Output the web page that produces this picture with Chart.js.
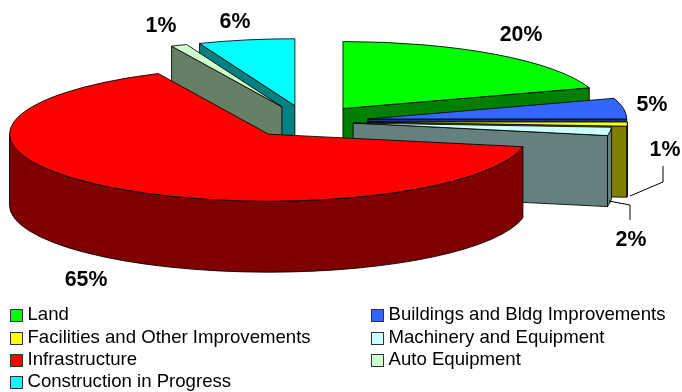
<!DOCTYPE html>
<html>
<head>
<meta charset="utf-8">
<style>html,body{margin:0;padding:0;background:#fff}canvas{display:block}</style>
<script src="https://cdn.jsdelivr.net/npm/chart.js@4/dist/chart.umd.min.js"></script>
</head>
<body>
<canvas id="c" width="682" height="392"></canvas>
<script>
const categories = ['Land','Buildings and Bldg Improvements','Facilities and Other Improvements','Machinery and Equipment','Infrastructure','Auto Equipment','Construction in Progress'];
const values = [20,5,1,2,65,1,6];
const colors = ['#00FF00','#3366FF','#FFFF00','#CCFFFF','#FF0000','#CCFFCC','#00FFFF'];
const wallColors = ['#008000','#1A3380','#808000','#668080','#800000','#668066','#008080'];
const explode = [62,62,62,47,62,62,62];
const paintOrder = [0,6,5,1,2,3,4];
const labelPos = [[521,35],[652,105],[665,150],[631,240],[86,280],[161,26],[235,22]];
const leaders = [[[630,196],[663,182],[663,166]],[[609,201],[630,205],[630,220]]];
const legendCols = [10,371], legendRows = [315,338,360,382];

const SQUASH = 67/259, DEPTH = 71, RADIUS = 259;
const LINE = 'rgba(0,0,0,0.85)';

const pie3d = {
  id:'pie3d',
  beforeDatasetsDraw(chart){
    const ctx = chart.ctx, arcs = chart.getDatasetMeta(0).data;
    paintOrder.forEach(i=>{
      const a = arcs[i], s = a.startAngle, e = a.endAngle, r = a.outerRadius, mid=(s+e)/2;
      const ax = a.x + explode[i]*Math.cos(mid), ay = a.y + explode[i]*Math.sin(mid)*SQUASH;
      const px = t=>ax+r*Math.cos(t), py = t=>ay+r*Math.sin(t)*SQUASH;
      ctx.save();
      ctx.lineWidth = 1; ctx.strokeStyle = LINE; ctx.lineJoin='round';
      ctx.fillStyle = wallColors[i];
      const radial = t=>{
        ctx.beginPath();ctx.moveTo(ax,ay);ctx.lineTo(px(t),py(t));
        ctx.lineTo(px(t),py(t)+DEPTH);ctx.lineTo(ax,ay+DEPTH);ctx.closePath();
        ctx.fill();ctx.stroke();
      };
      if(Math.cos(s)<-1e-6) radial(s);
      if(Math.cos(e)>1e-6) radial(e);
      const f0 = Math.max(s,0), f1 = Math.min(e,Math.PI);
      if(f1>f0){
        ctx.beginPath();
        ctx.ellipse(ax,ay,r,r*SQUASH,0,f0,f1);
        ctx.lineTo(px(f1),py(f1)+DEPTH);
        ctx.ellipse(ax,ay+DEPTH,r,r*SQUASH,0,f1,f0,true);
        ctx.closePath();ctx.fill();ctx.stroke();
      }
      // top surface through the library's arc element
      ctx.save();
      ctx.translate(ax,ay);ctx.scale(1,SQUASH);ctx.translate(-a.x,-a.y);
      a.draw(ctx);
      ctx.restore();
      ctx.beginPath();ctx.moveTo(ax,ay);
      ctx.ellipse(ax,ay,r,r*SQUASH,0,s,e);
      ctx.closePath();ctx.stroke();
      ctx.restore();
    });
    return false;
  },
  afterDraw(chart){
    const ctx = chart.ctx;
    ctx.save();
    ctx.strokeStyle='#000';ctx.lineWidth=1;
    leaders.forEach(l=>{ctx.beginPath();l.forEach((p,j)=>j?ctx.lineTo(p[0],p[1]):ctx.moveTo(p[0],p[1]));ctx.stroke();});
    ctx.fillStyle='#000';ctx.textAlign='center';ctx.textBaseline='middle';
    ctx.font='bold 21.3px "Liberation Sans"';
    values.forEach((v,i)=>ctx.fillText(v+'%',labelPos[i][0],labelPos[i][1]));
    ctx.textAlign='left';ctx.font='18.6px "Liberation Sans"';
    categories.forEach((c,i)=>{
      const col=i%2, row=Math.floor(i/2), x=legendCols[col], y=legendRows[row];
      ctx.fillStyle=colors[i];ctx.fillRect(x,y-6,12,12);
      ctx.strokeStyle='#333';ctx.strokeRect(x+.5,y-5.5,12,12);
      ctx.fillStyle='#000';ctx.fillText(c,x+17.5,y);
    });
    ctx.restore();
  }
};

new Chart(document.getElementById('c'),{
  type:'pie',
  data:{labels:categories,datasets:[{data:values,backgroundColor:colors,borderWidth:0}]},
  options:{
    responsive:false,animation:false,rotation:0,radius:RADIUS,
    layout:{padding:{left:0,top:0,right:69,bottom:149}},
    plugins:{legend:{display:false},tooltip:{enabled:false}}
  },
  plugins:[pie3d]
});
</script>
</body>
</html>
